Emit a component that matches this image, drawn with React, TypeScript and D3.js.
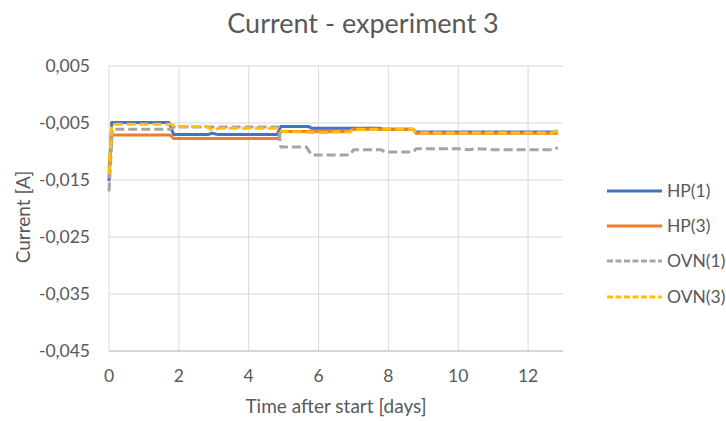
import React from "react";
import * as d3 from "d3";

const title = "Current - experiment 3";
const xTitle = "Time after start [days]";
const yTitle = "Current [A]";
const xTicks = [0, 2, 4, 6, 8, 10, 12];
const yTicks = [0.005, -0.005, -0.015, -0.025, -0.035, -0.045];

const seriesNames = ["HP(1)", "HP(3)", "OVN(1)", "OVN(3)"];
const seriesColors = ["#4472C4", "#ED7D31", "#A5A5A5", "#FFC000"];
const seriesDashed = [false, false, true, true];

const hp1: [number, number][] = [
  [0, -0.0152], [0.08, -0.0049], [1.72, -0.0049], [1.85, -0.0070], [2.85, -0.0070],
  [2.95, -0.0068], [3.1, -0.0070], [4.82, -0.0070], [4.92, -0.0056], [5.7, -0.0056],
  [5.8, -0.0059], [7.75, -0.0059], [7.82, -0.0061], [8.7, -0.0061], [8.8, -0.0066],
  [12.85, -0.0066],
];
const hp3: [number, number][] = [
  [0, -0.013], [0.08, -0.0071], [1.75, -0.0071], [1.85, -0.0077], [4.85, -0.0077],
  [4.92, -0.0065], [6.9, -0.0065], [7.0, -0.0061], [8.7, -0.0061], [8.8, -0.0068],
  [12.85, -0.0068],
];
const ovn1: [number, number][] = [
  [0, -0.017], [0.1, -0.0061], [1.75, -0.0061], [1.85, -0.0057], [4.85, -0.0057],
  [4.92, -0.0092], [5.65, -0.0092], [5.8, -0.0106], [6.9, -0.0106], [7.0, -0.0097],
  [7.8, -0.0097], [7.9, -0.0101], [8.7, -0.0101], [8.8, -0.0095], [10.1, -0.0095],
  [10.3, -0.0097], [10.5, -0.0095], [11.0, -0.0097], [12.7, -0.0097], [12.85, -0.0093],
];
const ovn3: [number, number][] = [
  [0, -0.014], [0.08, -0.0052], [1.75, -0.0052], [1.9, -0.0056], [2.8, -0.0056],
  [2.95, -0.0062], [3.2, -0.0059], [4.85, -0.0059], [4.95, -0.0065], [5.6, -0.0066],
  [6.2, -0.0067], [6.5, -0.0066], [6.9, -0.0066], [6.98, -0.0061], [8.7, -0.0061],
  [8.8, -0.0067], [12.7, -0.0067], [12.78, -0.0064], [12.85, -0.0066],
];
const seriesData = [hp1, hp3, ovn1, ovn3];

const W = 726;
const H = 421;
const FONT = "Lato, 'Open Sans', sans-serif";
const TEXT = "#595959";
const GRID = "#D9D9D9";

const fmt = (v: number) => d3.format(".3f")(v).replace(".", ",").replace("−", "-");

export default function App() {
  const x = d3.scaleLinear().domain([0, 13]).range([109, 563]);
  const y = d3.scaleLinear().domain([-0.045, 0.005]).range([351, 66]);
  const line = d3
    .line<[number, number]>()
    .x((d) => x(d[0]))
    .y((d) => y(d[1]));

  const legendY = [191, 226, 261, 297];

  return (
    <svg
      width={W}
      height={H}
      style={{ position: "absolute", left: 0, top: 0, background: "#fff" }}
      fontFamily={FONT}
    >
      <rect width={W} height={H} fill="#fff" />
      <text x={363} y={33} textAnchor="middle" fontSize={27} fill={TEXT}>
        {title}
      </text>
      {yTicks.map((t) => (
        <g key={"y" + t}>
          <line x1={x(0)} x2={x(13)} y1={y(t)} y2={y(t)} stroke={GRID} strokeWidth={1} />
          <text x={90} y={y(t)} dy="0.35em" textAnchor="end" fontSize={17.5} fill={TEXT}>
            {fmt(t)}
          </text>
        </g>
      ))}
      {xTicks.map((t) => (
        <g key={"x" + t}>
          <line x1={x(t)} x2={x(t)} y1={y(0.005)} y2={y(-0.045)} stroke={GRID} strokeWidth={1} />
          <text x={x(t)} y={376} dy="0.35em" textAnchor="middle" fontSize={17.5} fill={TEXT}>
            {t}
          </text>
        </g>
      ))}
      <line x1={x(0)} x2={x(13)} y1={y(-0.045)} y2={y(-0.045)} stroke="#BFBFBF" strokeWidth={1} />
      <text x={336} y={406} dy="0.35em" textAnchor="middle" fontSize={19} fill={TEXT}>
        {xTitle}
      </text>
      <text
        transform={`translate(23,217) rotate(-90)`}
        dy="0.35em"
        textAnchor="middle"
        fontSize={19}
        fill={TEXT}
      >
        {yTitle}
      </text>
      {seriesData.map((d, i) => (
        <path
          key={"s" + i}
          d={line(d) || ""}
          fill="none"
          stroke={seriesColors[i]}
          strokeWidth={3}
          strokeDasharray={seriesDashed[i] ? "9,4" : undefined}
          strokeLinejoin="round"
        />
      ))}
      {seriesNames.map((n, i) => (
        <g key={"l" + i}>
          <line
            x1={607}
            x2={662}
            y1={legendY[i]}
            y2={legendY[i]}
            stroke={seriesColors[i]}
            strokeWidth={3}
            strokeDasharray={seriesDashed[i] ? "6,2.5" : undefined}
          />
          <text x={667} y={legendY[i]} dy="0.35em" fontSize={17.5} fill={TEXT}>
            {n}
          </text>
        </g>
      ))}
    </svg>
  );
}
